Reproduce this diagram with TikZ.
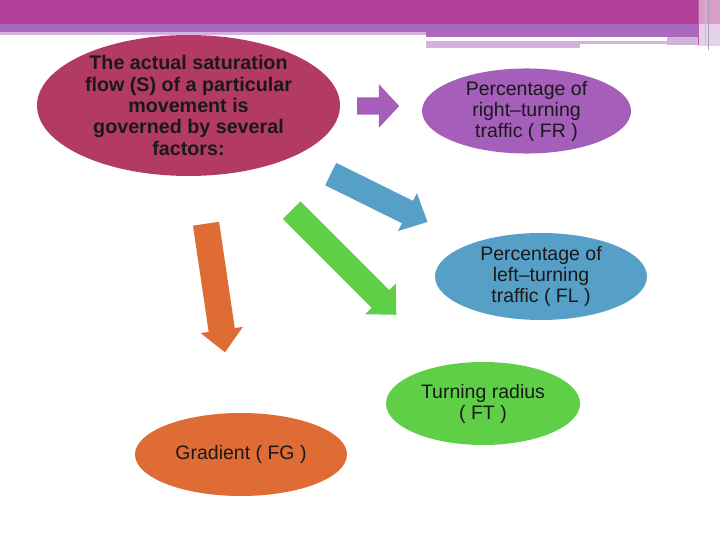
\documentclass[tikz,border=0pt]{standalone}
\usepackage{fontspec}
\setmainfont{Liberation Sans}
\usepackage{xcolor}
\usepackage{tikz}
\usetikzlibrary{shapes.geometric,shapes.arrows}
\definecolor{barmagenta}{HTML}{B23F98}
\definecolor{barpurple}{HTML}{AA69BE}
\definecolor{barlav}{HTML}{D5B2DC}
\definecolor{crimsonfill}{HTML}{B23A65}
\definecolor{violetfill}{HTML}{A55EB9}
\definecolor{bluefill}{HTML}{56A0C8}
\definecolor{greenfill}{HTML}{5ECF46}
\definecolor{orangefill}{HTML}{DF6B35}
\tikzset{
  factor/.style={ellipse, draw=none, inner sep=0pt, align=center, text=black!90, font=\fontsize{19.5}{21}\selectfont},
  mainfactor/.style={factor, font=\fontsize{19.7}{21.3}\selectfont\bfseries},
  blk/.style={single arrow, draw=none, anchor=tail, inner xsep=0pt, minimum width=1pt},
}
\begin{document}
\begin{tikzpicture}[x=1pt, y=-1pt]
\useasboundingbox (0,0) rectangle (720,540);
% title bar
\fill[barmagenta] (0,0) rectangle (698,24);
\fill[barpurple] (0,24) rectangle (426,32);
\fill[barlav] (0,32) rectangle (426,35.5);
\fill[barpurple] (426,24) rectangle (698,37);
\fill[barlav] (426,41.5) rectangle (580,48.3);
\fill[barlav] (580,41.5) rectangle (667,44.5);
\fill[barlav] (667,37) rectangle (698,45);
\fill[barmagenta!50] (698,0) rectangle (720,24);
\fill[barlav!60] (698,24) rectangle (720,46);
\draw[barmagenta!85, line width=1.2pt] (698.5,0) -- (698.5,45);
\draw[barmagenta!40, line width=1pt] (705,0) -- (705,45);
\draw[gray!70, line width=.6pt] (708.5,0) -- (708.5,50);
% factors
\node[mainfactor, fill=crimsonfill, minimum width=303, minimum height=125] (sat) at (188.5,105.5)
  {The actual saturation\\flow (S) of a particular\\movement is\\governed by several\\factors:};
\node[factor, fill=violetfill, minimum width=209, minimum height=82] (fr) at (526.5,111)
  {Percentage of\\right--turning\\traffic ( FR )};
\node[factor, fill=bluefill, minimum width=212, minimum height=87] (fl) at (541,276.5)
  {Percentage of\\left--turning\\traffic ( FL )};
\node[factor, fill=greenfill, minimum width=194, minimum height=83] (ft) at (483,403.5)
  {Turning radius\\( FT )};
\node[factor, fill=orangefill, minimum width=212, minimum height=83] (fg) at (241,454.5)
  {Gradient ( FG )};
% block arrows
\node[blk, fill=violetfill, inner ysep=8.5pt, single arrow head extend=13pt, single arrow tip angle=94, minimum height=42] (afr) at (357,106) {};
\node[blk, fill=bluefill, inner ysep=12.3pt, single arrow head extend=8.7pt, single arrow tip angle=87, minimum height=108, rotate=-26.3] (afl) at (330.5,174) {};
\node[blk, fill=greenfill, inner ysep=12.3pt, single arrow head extend=9.2pt, single arrow tip angle=88, minimum height=148, rotate=-45] (aft) at (291.5,210) {};
\node[blk, fill=orangefill, inner ysep=13pt, single arrow head extend=8.2pt, single arrow tip angle=87, minimum height=130, rotate=-81.6] (afg) at (206,223.5) {};
\end{tikzpicture}
\end{document}
